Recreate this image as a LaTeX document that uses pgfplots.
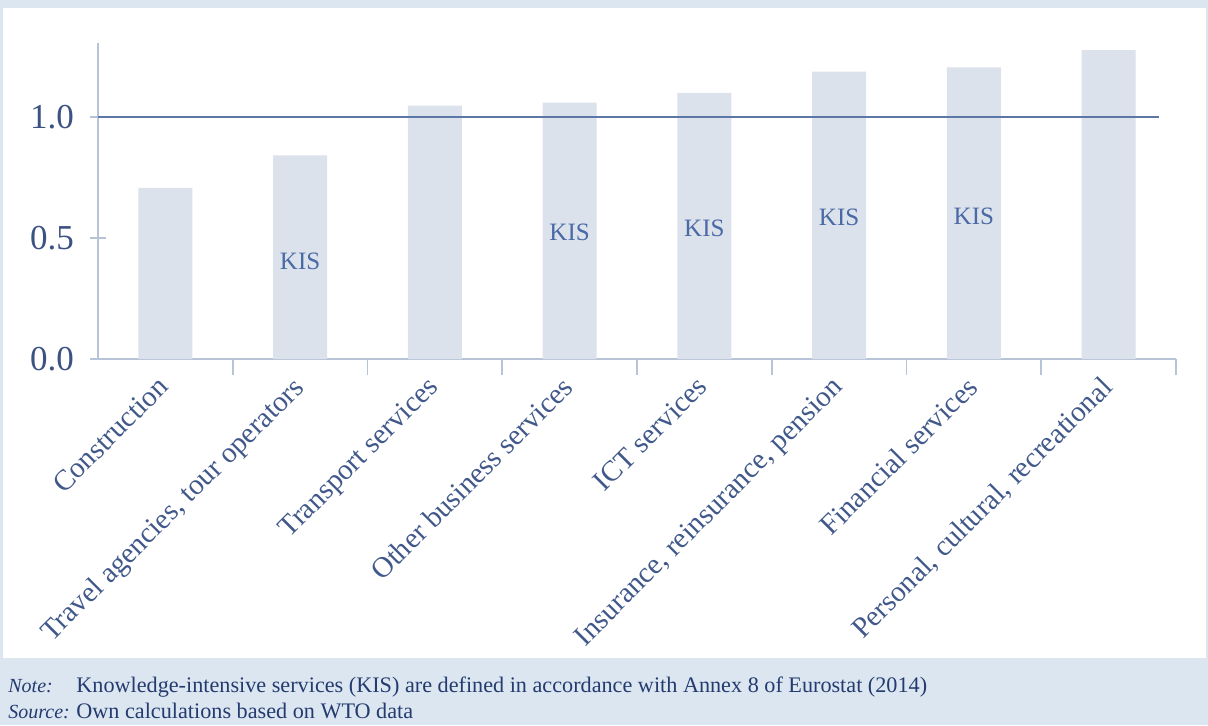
\documentclass[border=0pt]{standalone}
\usepackage{fontspec}
\setmainfont{Liberation Serif}
\usepackage{pgfplots}
\pgfplotsset{compat=1.18}
\definecolor{bgblue}{HTML}{DCE6F1}
\definecolor{barfill}{HTML}{DCE2EC}
\definecolor{axiscol}{HTML}{B7C3D7}
\definecolor{refline}{HTML}{5C77A6}
\definecolor{tickcol}{HTML}{3B5282}
\definecolor{catcol}{HTML}{41598A}
\definecolor{kiscol}{HTML}{4A6AA5}
\definecolor{foot}{HTML}{233B6E}
\begin{document}
\begin{tikzpicture}[x=0.5pt,y=0.5pt]
\useasboundingbox (0,0) rectangle (1208,725);
\fill[bgblue] (0,0) rectangle (1208,725);
\fill[white] (3,67) rectangle (1206,717);
\begin{axis}[
  at={(49pt,183pt)}, anchor=south west,
  scale only axis, width=539pt, height=158pt,
  xmin=0, xmax=8, ymin=0, ymax=1.306,
  axis x line*=bottom, axis y line*=left,
  axis line style={-, draw=axiscol, line width=1.2pt},
  xtick={1,...,8}, xticklabels={},
  extra x ticks={0.5,1.5,2.5,3.5,4.5,5.5,6.5,7.5},
  extra x tick labels={Construction,{Travel agencies, tour operators},Transport services,Other business services,ICT services,{Insurance, reinsurance, pension},Financial services,{Personal, cultural, recreational}},
  extra x tick style={major tick length=0pt, tick style={draw=none}},
  ytick={0,0.5,1},
  tick align=center, major tick length=8pt,
  tick style={draw=axiscol, line width=0.8pt},
  xtick style={yshift=-4pt},
  yticklabel style={/pgf/number format/fixed, /pgf/number format/fixed zerofill, /pgf/number format/precision=1, /pgf/number format/assume math mode=true},
  y tick label style={font=\fontsize{17.5}{20}\selectfont, color=tickcol, xshift=-4.5pt},
  x tick label style={font=\fontsize{14.5}{17}\selectfont, color=catcol, xshift=-4.5pt, yshift=-3pt, rotate=45, anchor=north east},
  clip=false,
]
\addplot[ybar, bar width=27pt, fill=barfill, draw=none] coordinates {
  (0.5,0.707) (1.5,0.842) (2.5,1.047) (3.5,1.060)
  (4.5,1.100) (5.5,1.188) (6.5,1.205) (7.5,1.277)};
\addplot[refline, line width=1pt] coordinates {(0,1) (7.877,1)};
\tikzset{kis/.style={font=\fontsize{12.5}{14}\selectfont, text=kiscol}}
\node[kis] at (axis cs:1.5,0.405) {KIS};
\node[kis] at (axis cs:3.5,0.522) {KIS};
\node[kis] at (axis cs:4.5,0.540) {KIS};
\node[kis] at (axis cs:5.5,0.584) {KIS};
\node[kis] at (axis cs:6.5,0.590) {KIS};
\end{axis}
\begin{scope}[text=foot]
\node[anchor=base west, inner sep=0pt, font=\fontsize{10}{12}\selectfont\itshape] at (8,33) {Note:};
\node[anchor=base west, inner sep=0pt, font=\fontsize{11.1}{13}\selectfont] at (76,33) {Knowledge-intensive services (KIS) are defined in accordance with Annex 8 of Eurostat (2014)};
\node[anchor=base west, inner sep=0pt, font=\fontsize{10}{12}\selectfont\itshape] at (8,7) {Source:};
\node[anchor=base west, inner sep=0pt, font=\fontsize{11.1}{13}\selectfont] at (76,7) {Own calculations based on WTO data};
\end{scope}
\end{tikzpicture}
\end{document}
